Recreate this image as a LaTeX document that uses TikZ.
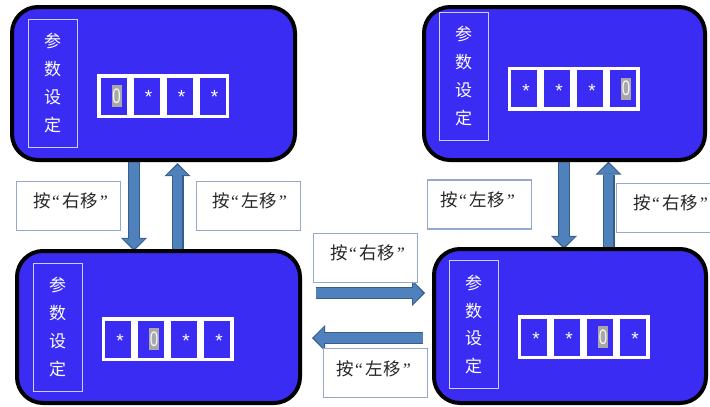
\documentclass[tikz,border=0pt]{standalone}
\usepackage{fontspec}
\usepackage{graphicx}
\newfontfamily\cjk{Noto Sans CJK SC}
\newfontfamily\lat{Liberation Sans}
\newfontfamily\latserif{Liberation Serif}
\newcommand\myopenq{\hspace{1.5pt}{\latserif“}\hspace{2.5pt}}
\newcommand\mycloseq{\hspace{2.5pt}{\latserif”}\hspace{1.5pt}}
\usetikzlibrary{arrows.meta,calc}
\definecolor{boxblue}{RGB}{58,44,242}
\definecolor{arrowfill}{RGB}{79,129,189}
\definecolor{arrowline}{RGB}{56,93,138}
\definecolor{lblline}{RGB}{149,169,204}
\definecolor{hlgray}{RGB}{168,168,168}
\definecolor{vlabline}{RGB}{205,205,255}
\begin{document}
\begin{tikzpicture}[x=1pt,y=-1pt,
  panel/.style={draw=black,line width=4pt,fill=boxblue,rounded corners=26pt,inner sep=0pt},
  vlab/.style={draw=vlabline,line width=0.9pt,minimum width=49pt,minimum height=128pt,inner sep=0pt,
    align=center,text=white,font=\cjk\fontsize{17}{27.8}\selectfont},
  cell/.style={draw=white,line width=3.5pt,minimum width=29.5pt,minimum height=40.5pt,inner sep=0pt},
  star/.style={text=white,inner sep=0pt,font=\lat\fontsize{19}{19}\selectfont},
  hl/.style={fill=hlgray,text=white!92!gray,inner sep=0pt,minimum width=10pt,minimum height=22pt,
    font=\lat\fontsize{21}{21}\selectfont},
  lab/.style={draw=lblline,line width=1.1pt,fill=white,minimum width=104pt,minimum height=49pt,inner sep=0pt},
  labtext/.style={inner sep=0pt,text=black!85,font=\cjk\fontsize{17.5}{18}\selectfont},
  arrowout/.style={draw=arrowline,line width=12pt,-{Triangle[width=26pt,length=13pt,line width=0pt]}},
  arrowin/.style={draw=arrowfill,line width=9.5pt,shorten >=1.9pt,-{Triangle[width=21.5pt,length=10pt,line width=0pt]}}
]
\useasboundingbox (0,0) rectangle (710,407);
\clip (0,0) rectangle (710,407);
\fill[white] (0,0) rectangle (710,407);

% x positions of vertical connectors
\coordinate (x1) at (134,0);
\coordinate (x2) at (177.5,0);
\coordinate (x3) at (564,0);
\coordinate (x4) at (608.5,0);
% free ends of horizontal connectors
\coordinate (h1s) at (316,293);
\coordinate (h1e) at (425,293);
\coordinate (h2s) at (423,338);
\coordinate (h2e) at (312,338);

% panels (positions only, drawn later)
\path (153.5,83.5) node[minimum width=283pt,minimum height=153pt,inner sep=0pt] (p1) {};
\path (564.5,83.5) node[minimum width=281pt,minimum height=153pt,inner sep=0pt] (p2) {};
\path (158.5,327) node[minimum width=283pt,minimum height=152pt,inner sep=0pt] (p3) {};
\path (570,326) node[minimum width=272pt,minimum height=154pt,inner sep=0pt] (p4) {};

% connectors
\draw[arrowout] ($(x1 |- p1.south)+(0,-8)$) -- (x1 |- p3.north);
\draw[arrowin]  ($(x1 |- p1.south)+(0,-8)$) -- (x1 |- p3.north);
\draw[arrowout] ($(x2 |- p3.north)+(0,8)$) -- ($(x2 |- p1.south)+(0,3)$);
\draw[arrowin]  ($(x2 |- p3.north)+(0,8)$) -- ($(x2 |- p1.south)+(0,3)$);
\draw[arrowout] ($(x3 |- p2.south)+(0,-8)$) -- (x3 |- p4.north);
\draw[arrowin]  ($(x3 |- p2.south)+(0,-8)$) -- (x3 |- p4.north);
\draw[arrowout] ($(x4 |- p4.north)+(0,8)$) -- ($(x4 |- p2.south)+(0,1.5)$);
\draw[arrowin]  ($(x4 |- p4.north)+(0,8)$) -- ($(x4 |- p2.south)+(0,1.5)$);
\draw[arrowout] (h1s) -- (h1e);
\draw[arrowin]  (h1s) -- (h1e);
\draw[arrowout] (h2s) -- (h2e);
\draw[arrowin]  (h2s) -- (h2e);

% panel shapes
\node[panel,minimum width=283pt,minimum height=153pt] (q1) at (p1) {};
\node[panel,minimum width=281pt,minimum height=153pt] (q2) at (p2) {};
\node[panel,minimum width=283pt,minimum height=152pt] (q3) at (p3) {};
\node[panel,minimum width=272pt,minimum height=154pt] (q4) at (p4) {};

% vertical labels
\node[vlab] (v1) at (52.5,83) {参\\数\\设\\定};
\node[vlab] (v2) at (463.5,76) {参\\数\\设\\定};
\node[vlab] (v3) at (57.5,327) {参\\数\\设\\定};
\node[vlab] (v4) at (473.5,324.5) {参\\数\\设\\定};

% digit cells
\foreach \i in {1,...,4} {
  \node[cell] (c1\i) at ({113.5+33*(\i-1)},96) {};
  \node[cell] (c2\i) at ({524+33*(\i-1)},88.5) {};
  \node[cell] (c3\i) at ({118+33*(\i-1)},339) {};
  \node[cell] (c4\i) at ({534+33*(\i-1)},337) {};
}
% panel 1: 0 * * *
\node[hl] (d11) at ([xshift=3pt]c11) {\scalebox{0.72}[1]{0}};
\node[star] (d12) at ([xshift=2pt,yshift=-1pt]c12) {*};
\node[star] (d13) at ([xshift=2pt,yshift=-1pt]c13) {*};
\node[star] (d14) at ([xshift=2pt,yshift=-1pt]c14) {*};
% panel 2: * * * 0
\node[star] (d21) at ([xshift=2pt,yshift=-2pt]c21) {*};
\node[star] (d22) at ([xshift=2pt,yshift=-2pt]c22) {*};
\node[star] (d23) at ([xshift=2pt,yshift=-2pt]c23) {*};
\node[hl] (d24) at ([xshift=3pt]c24) {\scalebox{0.72}[1]{0}};
% panel 3: * 0 * *
\node[star] (d31) at ([xshift=2pt,yshift=-2pt]c31) {*};
\node[hl] (d32) at ([xshift=3pt]c32) {\scalebox{0.72}[1]{0}};
\node[star] (d33) at ([xshift=2pt,yshift=-2pt]c33) {*};
\node[star] (d34) at ([xshift=2pt,yshift=-2pt]c34) {*};
% panel 4: * * 0 *
\node[star] (d41) at ([xshift=2pt,yshift=-2pt]c41) {*};
\node[star] (d42) at ([xshift=2pt,yshift=-2pt]c42) {*};
\node[hl] (d43) at ([xshift=3pt]c43) {\scalebox{0.72}[1]{0}};
\node[star] (d44) at ([xshift=2pt,yshift=-2pt]c44) {*};

% key labels
\node[lab] (l1) at (68.5,206) {};
\node[labtext] at ([xshift=2pt,yshift=5pt]l1) {按\myopenq 右移\mycloseq};
\node[lab] (l2) at (248.5,206) {};
\node[labtext] at ([xshift=1pt,yshift=5pt]l2) {按\myopenq 左移\mycloseq};
\node[lab] (l3) at (479.5,204.5) {};
\node[labtext] at ([xshift=-2pt,yshift=5pt]l3) {按\myopenq 左移\mycloseq};
\node[lab] (l4) at (668.5,208) {};
\node[labtext] at ([xshift=2pt,yshift=5pt]l4) {按\myopenq 右移\mycloseq};
\node[lab] (l5) at (365.5,258) {};
\node[labtext] at ([xshift=2pt,yshift=5pt]l5) {按\myopenq 右移\mycloseq};
\node[lab] (l6) at (375.5,373) {};
\node[labtext] at ([xshift=-2pt,yshift=4pt]l6) {按\myopenq 左移\mycloseq};
\end{tikzpicture}
\end{document}
